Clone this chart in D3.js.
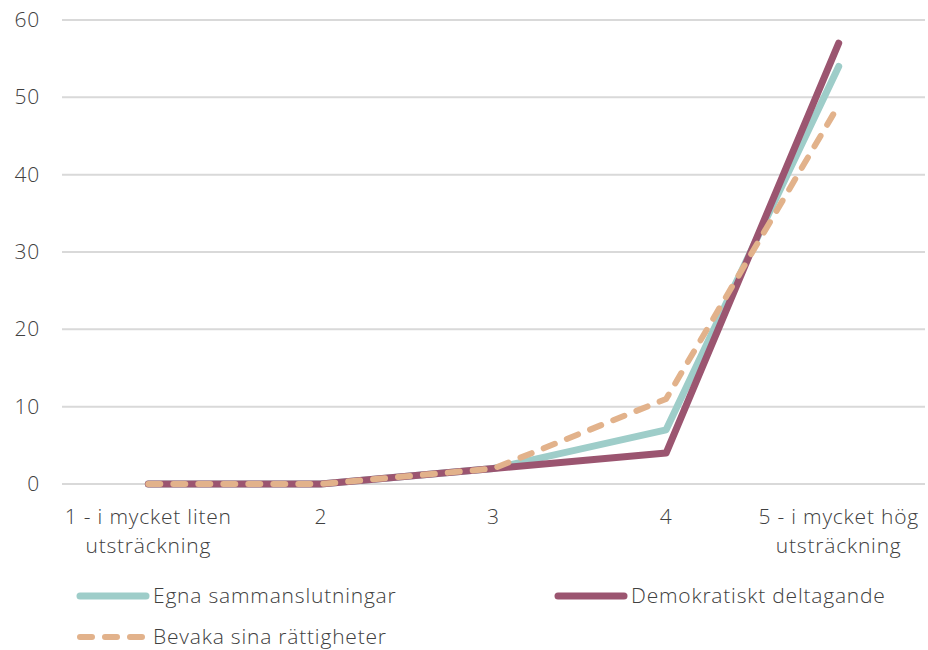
<!DOCTYPE html>
<html><head><meta charset="utf-8">
<script src="https://cdn.jsdelivr.net/npm/d3@7"></script>
<style>body{margin:0;background:#fff}text{font-family:"Open Sans",sans-serif;font-weight:300;fill:#404040;letter-spacing:0.8px}</style>
</head><body><svg id="c" width="928" height="650"></svg>
<script>
const categories = ["1 - i mycket liten\nutsträckning","2","3","4","5 - i mycket hög\nutsträckning"];
const egna = [0,0,2,7,54];
const demokratiskt = [0,0,2,4,57];
const bevaka = [0,0,2,11,49];
const yTicks = [0,10,20,30,40,50,60];
const seriesNames = ["Egna sammanslutningar","Demokratiskt deltagande","Bevaka sina rättigheter"];

const svg = d3.select("#c");
const x = d3.scaleBand().domain(categories).range([62,925]);
const y = d3.scaleLinear().domain([0,60]).range([484,20]);
const fs = 21;

svg.append("g").selectAll("line").data(yTicks).join("line")
  .attr("x1",62).attr("x2",925).attr("y1",d=>y(d)).attr("y2",d=>y(d))
  .attr("stroke","#d9d9d9").attr("stroke-width",2);
svg.append("g").selectAll("text").data(yTicks).join("text")
  .attr("x",40).attr("y",d=>y(d)+7).attr("text-anchor","end").attr("font-size",fs).text(d=>d);

const xl = svg.append("g").selectAll("text").data(categories).join("text")
  .attr("x",d=>x(d)+x.bandwidth()/2).attr("y",524).attr("text-anchor","middle").attr("font-size",fs);
xl.each(function(d){
  d.split("\n").forEach((s,i)=>d3.select(this).append("tspan").attr("x",x(d)+x.bandwidth()/2).attr("dy",i?29:0).text(s));
});

const line = d3.line().x((d,i)=>x(categories[i])+x.bandwidth()/2).y(d=>y(d));
const series = [
  {v:egna,c:"#9ecdc9",w:7,dash:null},
  {v:demokratiskt,c:"#9b5570",w:7,dash:null},
  {v:bevaka,c:"#e2b28b",w:6,dash:"12,13"}
];
series.forEach(s=>{
  svg.append("path").attr("d",line(s.v)).attr("fill","none").attr("stroke",s.c)
    .attr("stroke-width",s.w).attr("stroke-linecap","round").attr("stroke-linejoin","round")
    .attr("stroke-dasharray",s.dash);
});

const leg = [
  {x:80,y:596,i:0},{x:558,y:596,i:1},{x:80,y:637,i:2}
];
leg.forEach(l=>{
  const s = series[l.i];
  svg.append("line").attr("x1",l.x).attr("x2",l.x+66).attr("y1",l.y).attr("y2",l.y)
    .attr("stroke",s.c).attr("stroke-width",s.w).attr("stroke-linecap","round")
    .attr("stroke-dasharray",s.dash);
  svg.append("text").attr("x",l.x+73).attr("y",l.y+7).attr("font-size",fs).text(seriesNames[l.i]);
});
</script></body></html>
